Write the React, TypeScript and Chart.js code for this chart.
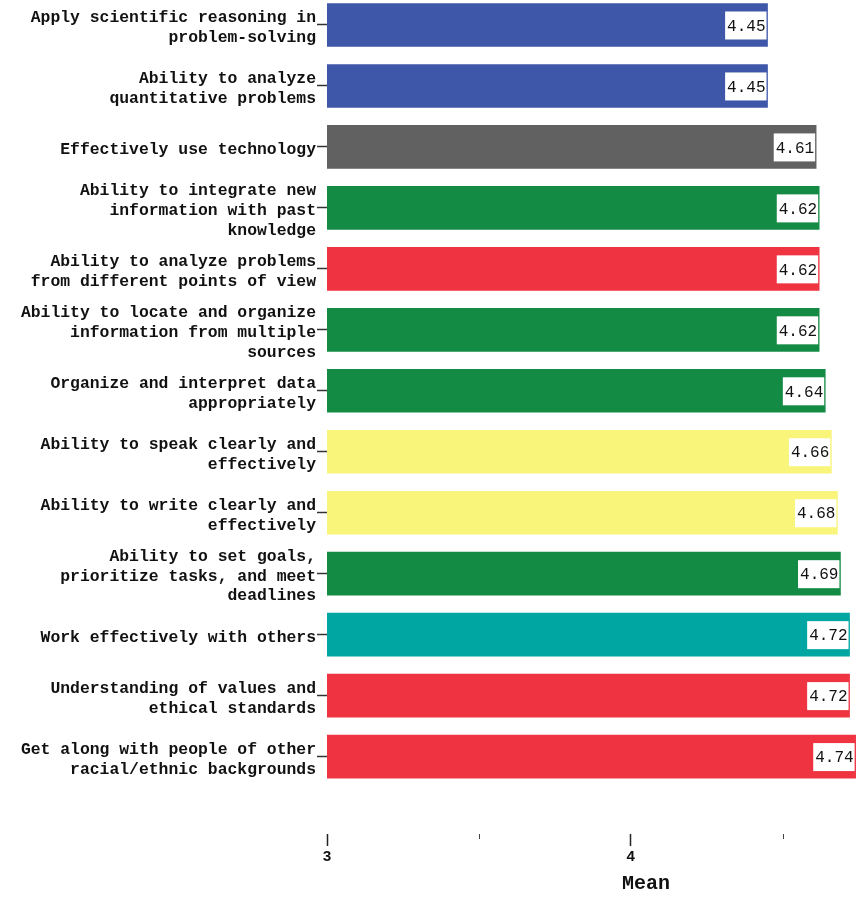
import React, { useEffect, useRef } from "react";
import { Chart, registerables } from "chart.js";

Chart.register(...registerables);

const categories: string[][] = [
  ["Apply scientific reasoning in", "problem-solving"],
  ["Ability to analyze", "quantitative problems"],
  ["Effectively use technology"],
  ["Ability to integrate new", "information with past", "knowledge"],
  ["Ability to analyze problems", "from different points of view"],
  ["Ability to locate and organize", "information from multiple", "sources"],
  ["Organize and interpret data", "appropriately"],
  ["Ability to speak clearly and", "effectively"],
  ["Ability to write clearly and", "effectively"],
  ["Ability to set goals,", "prioritize tasks, and meet", "deadlines"],
  ["Work effectively with others"],
  ["Understanding of values and", "ethical standards"],
  ["Get along with people of other", "racial/ethnic backgrounds"],
];

const means: number[] = [4.45, 4.45, 4.61, 4.62, 4.62, 4.62, 4.64, 4.66, 4.68, 4.69, 4.72, 4.72, 4.74];

const barColors: string[] = [
  "#3F57A9", "#3F57A9", "#616161", "#138B45", "#EF3340", "#138B45", "#138B45",
  "#F8F57A", "#F8F57A", "#138B45", "#00A6A2", "#EF3340", "#EF3340",
];

const xMajorTicks: number[] = [3, 4, 5];
const xMinorTicks: number[] = [3.5, 4.5];

const valueLabelPlugin = {
  id: "valueLabels",
  afterDatasetsDraw(chart: any) {
    const ctx = chart.ctx;
    const meta = chart.getDatasetMeta(0);
    ctx.save();
    ctx.font = '16px "Liberation Mono"';
    ctx.textAlign = "right";
    ctx.textBaseline = "middle";
    meta.data.forEach((bar: any, i: number) => {
      const text = means[i].toFixed(2);
      const w = ctx.measureText(text).width;
      const right = bar.x - 1;
      const cy = bar.y + 0.5;
      ctx.fillStyle = "#ffffff";
      ctx.fillRect(right - w - 3, cy - 14, w + 3, 28);
      ctx.fillStyle = "#111111";
      ctx.fillText(text, right - 1, cy + 1);
    });
    ctx.restore();
  },
};

const minorTickPlugin = {
  id: "minorTicks",
  afterDraw(chart: any) {
    const ctx = chart.ctx;
    const xs = chart.scales.x;
    ctx.save();
    ctx.strokeStyle = "#444444";
    ctx.lineWidth = 1;
    xMinorTicks.forEach((v) => {
      const px = Math.round(xs.getPixelForValue(v)) + 0.5;
      ctx.beginPath();
      ctx.moveTo(px, xs.top);
      ctx.lineTo(px, xs.top + 5);
      ctx.stroke();
    });
    ctx.restore();
  },
};

export default function App() {
  const ref = useRef<HTMLCanvasElement | null>(null);
  useEffect(() => {
    if (!ref.current) return;
    const chart = new Chart(ref.current, {
      type: "bar",
      data: {
        datasets: [
          {
            data: means.map((v, i) => ({ x: v, y: i })),
            backgroundColor: barColors,
            borderWidth: 0,
            barThickness: 43,
          },
        ],
      },
      plugins: [valueLabelPlugin, minorTickPlugin],
      options: {
        indexAxis: "y",
        animation: false,
        responsive: false,
        layout: { padding: 0 },
        plugins: { legend: { display: false }, tooltip: { enabled: false } },
        scales: {
          x: {
            type: "linear",
            position: "bottom",
            min: 3,
            max: 5.1,
            offset: false,
            afterBuildTicks: (s: any) => {
              s.ticks = xMajorTicks.map((v) => ({ value: v }));
            },
            afterFit: (s: any) => {
              s.height = 66;
              s.paddingLeft = 0;
              s.paddingRight = 0;
            },
            border: { display: false },
            grid: {
              drawOnChartArea: false,
              drawTicks: true,
              offset: false,
              tickLength: 12,
              tickColor: "#222222",
              tickWidth: 1.5,
            },
            ticks: {
              padding: 2,
              color: "#111111",
              font: { family: "Liberation Mono", weight: "bold", size: 15 },
              callback: (v: any) => String(v),
            },
            title: {
              display: true,
              text: "Mean",
              color: "#111111",
              font: { family: "Liberation Mono", weight: "bold", size: 20 },
              padding: { top: 0, bottom: 4 },
            },
          },
          y: {
            type: "linear",
            reverse: true,
            offset: false,
            min: -0.41,
            max: 13.27,
            afterBuildTicks: (s: any) => {
              s.ticks = categories.map((_, i) => ({ value: i }));
            },
            afterFit: (s: any) => {
              s.width = 327;
              s.paddingTop = 0;
              s.paddingBottom = 0;
            },
            border: { display: false },
            grid: {
              drawOnChartArea: false,
              drawTicks: true,
              offset: false,
              tickLength: 10,
              tickColor: "#333333",
              tickWidth: 1.5,
            },
            ticks: {
              padding: 1,
              labelOffset: 3,
              color: "#111111",
              autoSkip: false,
              font: { family: "Liberation Mono", weight: "bold", size: 16.4, lineHeight: 1.2 },
              callback: (v: any) => categories[v] ?? "",
            },
          },
        },
      },
    } as any);
    return () => chart.destroy();
  }, []);
  return (
    <div style={{ position: "absolute", left: 0, top: 0, width: 864, height: 900, overflow: "hidden", background: "#fff" }}>
      <canvas ref={ref} width={965} height={900} style={{ display: "block" }} />
    </div>
  );
}
